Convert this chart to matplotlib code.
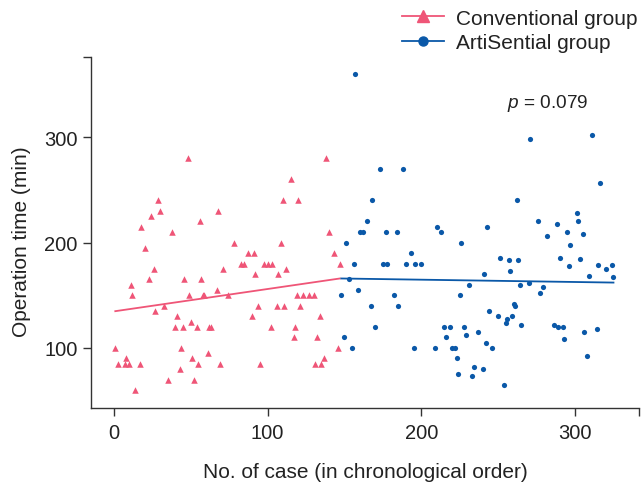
import matplotlib.pyplot as plt
import numpy as np
from matplotlib.lines import Line2D

plt.rcParams['font.family'] = ['Liberation Sans', 'DejaVu Sans']
plt.rcParams['mathtext.fontset'] = 'custom'
plt.rcParams['mathtext.it'] = 'Liberation Sans:italic'
plt.rcParams['mathtext.rm'] = 'Liberation Sans'

# Conventional group (case no., operation time in min)
conv_case = [1, 3, 7, 8, 10, 11, 12, 14, 17, 18,
             20, 23, 24, 26, 27, 29, 30, 33, 35, 38,
             40, 41, 43, 44, 45, 46, 48, 49, 50, 51,
             52, 54, 55, 56, 57, 58, 59, 61, 62, 63,
             67, 68, 69, 71, 74, 78, 83, 85, 87, 90,
             91, 92, 94, 95, 98, 100, 102, 103, 106, 107,
             109, 110, 111, 112, 115, 117, 118, 119, 120, 121,
             123, 127, 130, 131, 132, 134, 135, 137, 138, 140,
             143, 146, 147]
conv_time = [100, 85, 85, 90, 85, 160, 150, 60, 85, 215,
             195, 165, 225, 175, 135, 240, 230, 140, 70, 210,
             120, 130, 80, 100, 120, 165, 280, 150, 125, 90,
             70, 120, 85, 220, 165, 150, 150, 95, 120, 120,
             155, 230, 85, 175, 150, 200, 180, 180, 190, 130,
             190, 170, 140, 85, 180, 180, 120, 180, 140, 170,
             200, 240, 140, 175, 260, 110, 120, 150, 240, 140,
             150, 150, 150, 85, 110, 130, 85, 90, 280, 210,
             190, 100, 180]

# ArtiSential group
arti_case = [148, 150, 151, 153, 155, 156, 157, 159, 160, 162,
             165, 167, 168, 170, 173, 175, 177, 178, 182, 184,
             185, 188, 190, 193, 195, 196, 200, 209, 210, 213,
             215, 216, 219, 220, 222, 223, 224, 225, 226, 228,
             229, 231, 233, 234, 237, 240, 241, 242, 243, 244,
             246, 250, 251, 254, 255, 256, 257, 258, 259, 260,
             261, 262, 263, 264, 265, 270, 271, 276, 277, 279,
             282, 286, 288, 289, 290, 292, 293, 295, 296, 297,
             301, 302, 303, 305, 306, 308, 309, 311, 314, 315,
             316, 320, 324, 325]
arti_time = [150, 110, 200, 165, 100, 180, 360, 155, 210, 210,
             220, 140, 240, 120, 270, 180, 210, 180, 150, 210,
             140, 270, 180, 190, 100, 180, 180, 100, 215, 210,
             120, 110, 120, 100, 100, 90, 75, 150, 200, 120,
             112, 160, 73, 82, 115, 80, 170, 105, 215, 135,
             100, 130, 185, 65, 124, 127, 183, 173, 130, 142,
             140, 240, 183, 160, 122, 162, 298, 220, 152, 158,
             206, 122, 218, 120, 185, 120, 108, 210, 178, 198,
             228, 220, 184, 208, 115, 92, 168, 302, 118, 179,
             256, 175, 179, 167]

pink = '#ef5577'
blue = '#0a58a8'
txt = '#222222'

fig = plt.figure(figsize=(6.41, 4.85), dpi=100)
ax = fig.add_axes([91 / 641, 76 / 485, 548 / 641, 351 / 485])

ax.scatter(conv_case, conv_time, marker='^', s=22, color=pink, linewidths=0, zorder=3)
ax.scatter(arti_case, arti_time, marker='o', s=14, color=blue, linewidths=0, zorder=3)

# linear trend per group
for xs, ys, c in [(conv_case, conv_time, pink), (arti_case, arti_time, blue)]:
    fit = np.poly1d(np.polyfit(xs, ys, 1))
    xx = np.array([min(xs), max(xs)])
    ax.plot(xx, fit(xx), color=c, lw=1.3, zorder=2)

ax.text(256, 333, r'$p$ = 0.079', fontsize=13.7, va='center', color=txt)

ax.set_xlim(-14.8, 341.6)
ax.set_ylim(43, 376)
ax.set_xticks([0, 100, 200, 300])
ax.set_yticks([100, 200, 300])
ax.set_xticks([341.6], minor=True)
ax.set_yticks([376], minor=True)
ax.tick_params(which='both', direction='out', length=5.5, width=1, colors='#333333',
               labelsize=14.5, labelcolor=txt)
ax.tick_params(axis='x', pad=5)
ax.tick_params(axis='y', pad=4)
for s in ['top', 'right']:
    ax.spines[s].set_visible(False)
for s in ['left', 'bottom']:
    ax.spines[s].set_color('#333333')
    ax.spines[s].set_linewidth(1)

ax.set_xlabel('No. of case (in chronological order)', fontsize=15, color=txt,
              va='center')
ax.set_ylabel('Operation time (min)', fontsize=15, color=txt, va='center')
ax.xaxis.set_label_coords(0.5, -0.18)
ax.yaxis.set_label_coords(-0.126, 0.478)

handles = [Line2D([], [], color=pink, marker='^', markersize=8, lw=1.3),
           Line2D([], [], color=blue, marker='o', markersize=6.5, lw=1.3)]
fig.legend(handles, ['Conventional group', 'ArtiSential group'], loc='upper left',
           bbox_to_anchor=(402 / 641, 0.980), frameon=False, fontsize=15,
           borderpad=0, borderaxespad=0, handlelength=2.0, handletextpad=0.6,
           labelspacing=0.25, labelcolor=txt)

fig.savefig('out.png', dpi=100)
